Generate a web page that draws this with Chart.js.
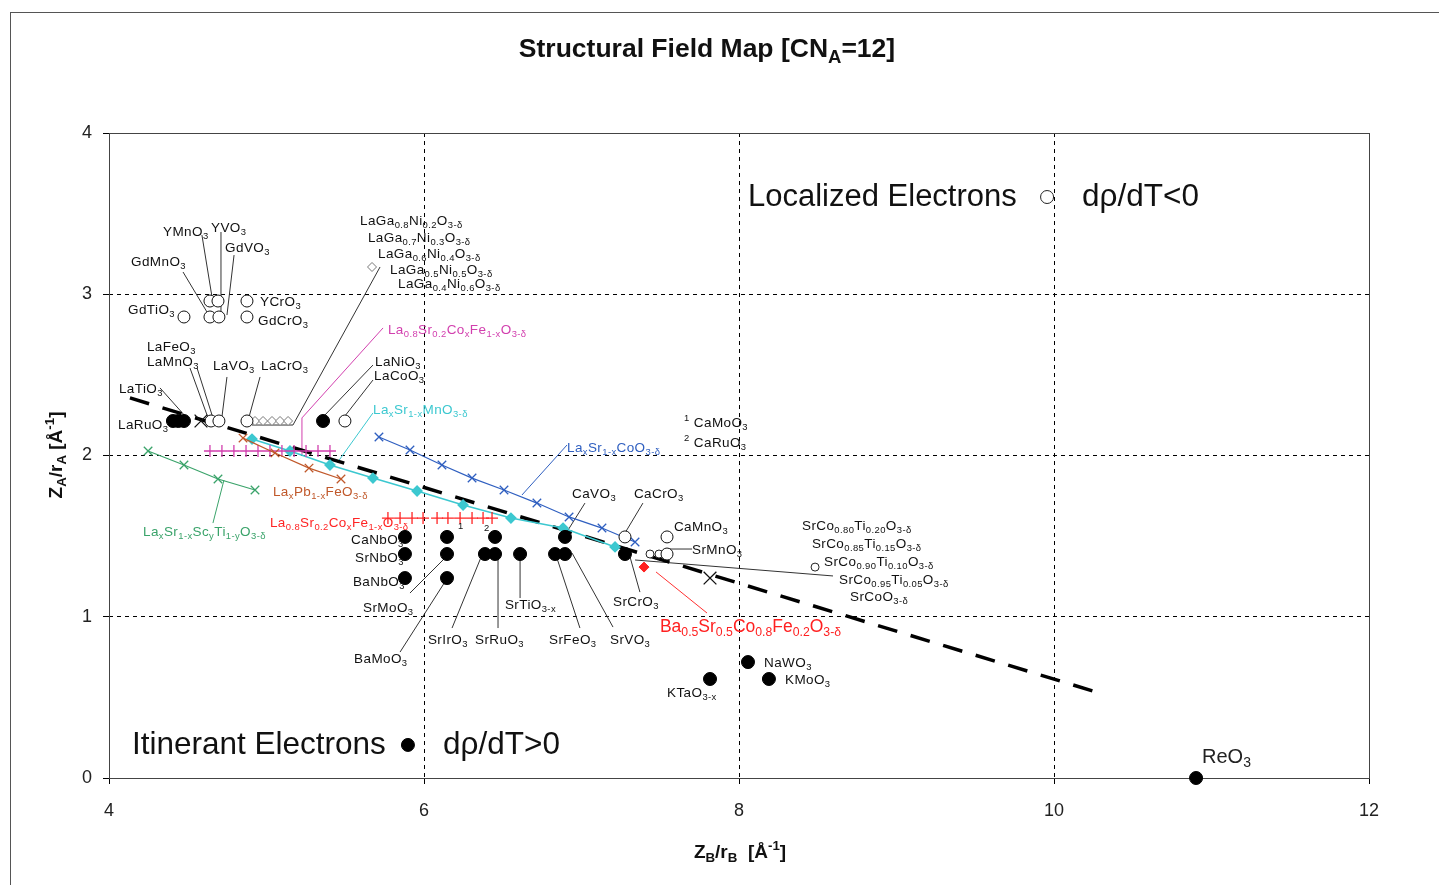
<!DOCTYPE html>
<html>
<head>
<meta charset="utf-8">
<script src="https://cdn.jsdelivr.net/npm/chart.js@4.4.1/dist/chart.umd.min.js"></script>
<style>
html, body { margin: 0; padding: 0; background: #fff; }
#wrap { width: 1439px; height: 885px; }
</style>
</head>
<body>
<div id="wrap"><canvas id="map" width="1439" height="885"></canvas></div>
<script>
// ---- data (Z_B/r_B, Z_A/r_A) ----
const xTicks = [4, 6, 8, 10, 12];
const yTicks = [0, 1, 2, 3, 4];

// itinerant (filled circles)
const metalX = [4.406, 4.44, 4.476, 5.359, 5.879, 5.879, 5.879, 6.146, 6.146, 6.146, 6.451, 6.387, 6.451, 6.61, 6.832, 6.895, 6.895, 7.276, 8.057, 8.19, 7.816, 10.902];
const metalY = [2.214, 2.214, 2.214, 2.214, 1.495, 1.389, 1.24, 1.495, 1.389, 1.24, 1.495, 1.389, 1.389, 1.389, 1.389, 1.389, 1.495, 1.389, 0.719, 0.614, 0.614, 0];

// localized (open circles)
const insulX = [4.476, 4.641, 4.698, 4.641, 4.692, 4.876, 4.876, 4.648, 4.698, 4.876, 5.498, 7.276, 7.543, 7.543];
const insulY = [2.859, 2.859, 2.859, 2.958, 2.958, 2.958, 2.859, 2.214, 2.214, 2.214, 2.214, 1.495, 1.495, 1.389];
const smallOpenX = [7.435, 7.492, 8.483];
const smallOpenY = [1.389, 1.389, 1.308];

// LaGa(1-x)NixO3 series (small diamonds) + label marker
const gaNiX = [4.927, 4.978, 5.035, 5.086, 5.137, 5.67];
const gaNiY = [2.214, 2.214, 2.214, 2.214, 2.214, 3.169];

// black crosses
const crossX = [4.584, 7.816];
const crossY = [2.214, 1.24];

// Ba0.5Sr0.5Co0.8Fe0.2O3
const bscfX = [7.397];
const bscfY = [1.308];

// solid solution series
const scTiX = [4.248, 4.476, 4.692, 4.927];
const scTiY = [2.028, 1.941, 1.854, 1.786];
const pbFeX = [4.851, 5.054, 5.27, 5.473];
const pbFeY = [2.108, 2.016, 1.922, 1.854];
const coFeAX = [4.641, 4.717, 4.793, 4.87, 4.946, 5.022, 5.098, 5.175, 5.251, 5.327, 5.403];
const coFeAY = [2.028, 2.028, 2.028, 2.028, 2.028, 2.028, 2.028, 2.028, 2.028, 2.028, 2.028];
const coFeBX = [5.771, 5.848, 5.924, 5.994, 6.083, 6.152, 6.229, 6.305, 6.375, 6.432];
const coFeBY = [1.612, 1.612, 1.612, 1.612, 1.612, 1.612, 1.612, 1.612, 1.612, 1.612];
const srMnX = [4.908, 5.149, 5.403, 5.676, 5.956, 6.248, 6.552, 6.883, 7.213];
const srMnY = [2.102, 2.028, 1.941, 1.86, 1.78, 1.693, 1.612, 1.55, 1.433];
const srCoX = [5.714, 5.911, 6.114, 6.305, 6.508, 6.717, 6.921, 7.13, 7.34];
const srCoY = [2.115, 2.034, 1.941, 1.86, 1.786, 1.705, 1.619, 1.55, 1.464];

// boundary between fields
const boundX = [4.133, 10.29];
const boundY = [2.357, 0.527];

// symbols inside the two field captions
const keyX = [9.956, 5.898];
const keyY = [3.603, 0.205];

// compound labels [text, x, y]
const blackLabels = [
  ['YMnO_3', 4.343, 3.386], ['YVO_3', 4.648, 3.411], ['GdVO_3', 4.737, 3.287],
  ['GdMnO_3', 4.14, 3.2], ['GdTiO_3', 4.121, 2.902], ['YCrO_3', 4.959, 2.952],
  ['GdCrO_3', 4.946, 2.834], ['LaFeO_3', 4.241, 2.673], ['LaMnO_3', 4.241, 2.58],
  ['LaVO_3', 4.66, 2.555], ['LaCrO_3', 4.965, 2.555], ['LaTiO_3', 4.063, 2.412],
  ['LaRuO_3', 4.057, 2.189],
  ['LaGa_{0.8}Ni_{0.2}O_{3-δ}', 5.594, 3.454], ['LaGa_{0.7}Ni_{0.3}O_{3-δ}', 5.644, 3.349],
  ['LaGa_{0.6}Ni_{0.4}O_{3-δ}', 5.708, 3.25], ['LaGa_{0.5}Ni_{0.5}O_{3-δ}', 5.784, 3.15],
  ['LaGa_{0.4}Ni_{0.6}O_{3-δ}', 5.835, 3.064],
  ['LaNiO_3', 5.689, 2.58], ['LaCoO_3', 5.683, 2.493],
  ['^{1} CaMoO_3', 7.651, 2.202], ['^{2} CaRuO_3', 7.651, 2.078],
  ['CaVO_3', 6.94, 1.761], ['CaCrO_3', 7.333, 1.761], ['CaMnO_3', 7.587, 1.557],
  ['SrMnO_3', 7.702, 1.414],
  ['SrCo_{0.80}Ti_{0.20}O_{3-δ}', 8.4, 1.563], ['SrCo_{0.85}Ti_{0.15}O_{3-δ}', 8.463, 1.451],
  ['SrCo_{0.90}Ti_{0.10}O_{3-δ}', 8.54, 1.34], ['SrCo_{0.95}Ti_{0.05}O_{3-δ}', 8.635, 1.228],
  ['SrCoO_{3-δ}', 8.705, 1.122],
  ['CaNbO_3', 5.537, 1.476], ['SrNbO_3', 5.562, 1.364], ['BaNbO_3', 5.549, 1.216],
  ['SrMoO_3', 5.613, 1.054], ['BaMoO_3', 5.556, 0.738], ['SrIrO_3', 6.025, 0.856],
  ['SrRuO_3', 6.324, 0.856], ['SrTiO_{3-x}', 6.514, 1.073], ['SrFeO_3', 6.794, 0.856],
  ['SrVO_3', 7.181, 0.856], ['SrCrO_3', 7.2, 1.091],
  ['NaWO_3', 8.159, 0.713], ['KMoO_3', 8.292, 0.608], ['KTaO_{3-x}', 7.543, 0.527],
  ['^{1}', 6.216, 1.532], ['^{2}', 6.381, 1.519]
];

const seriesNames = [
  'La_xSr_{1-x}Sc_yTi_{1-y}O_{3-δ}', 'La_xPb_{1-x}FeO_{3-δ}',
  'La_{0.8}Sr_{0.2}Co_xFe_{1-x}O_{3-δ}', 'La_{0.8}Sr_{0.2}Co_xFe_{1-x}O_{3-δ}',
  'La_xSr_{1-x}MnO_{3-δ}', 'La_xSr_{1-x}CoO_{3-δ}'
];
const seriesLabelX = [4.216, 5.041, 5.771, 5.022, 5.676, 6.908];
const seriesLabelY = [1.526, 1.774, 2.778, 1.581, 2.282, 2.047];

// leader lines (x1, y1, x2, y2, ...)
const leaders = [
  [4.59, 3.367, 4.654, 2.983], [4.711, 3.386, 4.711, 2.853], [4.794, 3.243, 4.749, 2.871],
  [4.47, 3.138, 4.622, 2.89], [4.514, 2.543, 4.629, 2.233], [4.559, 2.543, 4.66, 2.233],
  [4.324, 2.419, 4.483, 2.245], [4.749, 2.487, 4.717, 2.239], [4.959, 2.487, 4.889, 2.239],
  [5.721, 3.169, 5.168, 2.189, 4.908, 2.189],
  [5.676, 2.561, 5.371, 2.251], [5.676, 2.468, 5.498, 2.245],
  [7.022, 1.705, 6.895, 1.507], [7.39, 1.705, 7.276, 1.519], [7.543, 1.42, 7.702, 1.42],
  [7.34, 1.352, 8.597, 1.253],
  [5.911, 1.147, 6.133, 1.364], [5.848, 0.781, 6.133, 1.216], [6.178, 0.93, 6.368, 1.383],
  [6.47, 0.93, 6.47, 1.377], [6.61, 1.116, 6.61, 1.377], [6.99, 0.93, 6.844, 1.364],
  [7.2, 0.936, 6.94, 1.395], [7.371, 1.153, 7.308, 1.371]
];
const seriesLeaders = [
  [4.73, 1.848, 4.66, 1.581], null,
  [5.74, 2.791, 5.225, 2.233, 5.225, 2.003], null,
  [5.448, 1.953, 5.676, 2.264], [6.622, 1.755, 6.908, 2.065]
];
const bscfLeader = [7.797, 1.023, 7.473, 1.278];

// ---- style ----
const FAM = "'Liberation Sans', Arial, sans-serif";
const seriesColors = ['#3aa36a', '#c0582a', '#d23fae', '#ff2424', '#3cc8d0', '#2f5fc0'];
const pts = (xs, ys) => xs.map((x, i) => ({x: x, y: ys[i]}));

function parseRich(s) {
  const segs = [];
  let cur = '', i = 0;
  while (i < s.length) {
    const c = s[i];
    if (c === '_' || c === '^') {
      if (cur) segs.push({t: cur, m: 'n'});
      cur = '';
      const m = c === '_' ? 'sub' : 'sup';
      i++;
      let t;
      if (s[i] === '{') { const j = s.indexOf('}', i); t = s.slice(i + 1, j); i = j + 1; }
      else { t = s[i]; i++; }
      segs.push({t: t, m: m});
    } else { cur += c; i++; }
  }
  if (cur) segs.push({t: cur, m: 'n'});
  return segs;
}

function drawRich(ctx, s, x, y, size, color, align, weight, spacing) {
  weight = weight || 'normal';
  ctx.save();
  ctx.letterSpacing = (spacing || 0) + 'px';
  const segs = parseRich(s);
  let w = 0;
  segs.forEach(g => {
    g.fs = g.m === 'n' ? size : size * 0.7;
    ctx.font = weight + ' ' + g.fs + 'px ' + FAM;
    g.w = ctx.measureText(g.t).width;
    w += g.w;
  });
  let cx = align === 'center' ? x - w / 2 : (align === 'right' ? x - w : x);
  ctx.textBaseline = 'middle';
  ctx.textAlign = 'left';
  ctx.fillStyle = color;
  segs.forEach(g => {
    ctx.font = weight + ' ' + g.fs + 'px ' + FAM;
    const dy = g.m === 'sub' ? size * 0.3 : (g.m === 'sup' ? -size * 0.35 : 0);
    ctx.fillText(g.t, cx, y + dy);
    cx += g.w;
  });
  ctx.restore();
}

function polyline(ctx, sx, sy, arr, color, width) {
  ctx.save();
  ctx.strokeStyle = color;
  ctx.lineWidth = width;
  ctx.beginPath();
  for (let i = 0; i < arr.length; i += 2) {
    const px = sx.getPixelForValue(arr[i]), py = sy.getPixelForValue(arr[i + 1]);
    if (i === 0) ctx.moveTo(px, py); else ctx.lineTo(px, py);
  }
  ctx.stroke();
  ctx.restore();
}

const decorPlugin = {
  id: 'decor',
  beforeDatasetsDraw(chart) {
    const ctx = chart.ctx, sx = chart.scales.x, sy = chart.scales.y;
    const a = chart.chartArea;
    ctx.save();
    ctx.strokeStyle = '#444';
    ctx.lineWidth = 1;
    ctx.strokeRect(a.left + 0.5, a.top + 0.5, a.right - a.left, a.bottom - a.top);
    ctx.restore();
    leaders.forEach(l => polyline(ctx, sx, sy, l, '#333', 1));
    seriesLeaders.forEach((l, i) => { if (l) polyline(ctx, sx, sy, l, seriesColors[i], 1); });
    polyline(ctx, sx, sy, bscfLeader, '#ff3030', 1);
  },
  afterDatasetsDraw(chart) {
    const ctx = chart.ctx, sx = chart.scales.x, sy = chart.scales.y;
    blackLabels.forEach(l => drawRich(ctx, l[0], sx.getPixelForValue(l[1]), sy.getPixelForValue(l[2]), 13.5, '#111', 'left', 'normal', 0.4));
    seriesNames.forEach((n, i) => drawRich(ctx, n, sx.getPixelForValue(seriesLabelX[i]), sy.getPixelForValue(seriesLabelY[i]), 13.5, seriesColors[i], 'left', 'normal', 0.4));
    drawRich(ctx, 'Ba_{0.5}Sr_{0.5}Co_{0.8}Fe_{0.2}O_{3-δ}', sx.getPixelForValue(7.498), sy.getPixelForValue(0.936), 17.5, '#ff2020', 'left');
    drawRich(ctx, 'ReO_3', sx.getPixelForValue(10.94), sy.getPixelForValue(0.13), 20, '#222', 'left');
    drawRich(ctx, 'Localized Electrons', sx.getPixelForValue(8.057), sy.getPixelForValue(3.603), 31, '#111', 'left');
    drawRich(ctx, 'dρ/dT<0', sx.getPixelForValue(10.178), sy.getPixelForValue(3.603), 31.5, '#111', 'left');
    drawRich(ctx, 'Itinerant Electrons', sx.getPixelForValue(4.146), sy.getPixelForValue(0.205), 31.5, '#111', 'left');
    drawRich(ctx, 'dρ/dT>0', sx.getPixelForValue(6.121), sy.getPixelForValue(0.205), 31.5, '#111', 'left');
  },
  afterDraw(chart) {
    const ctx = chart.ctx;
    ctx.save();
    ctx.strokeStyle = '#555';
    ctx.lineWidth = 1;
    ctx.strokeRect(10.5, 12.5, 1440, 880);
    ctx.restore();
    drawRich(ctx, 'Structural Field Map [CN_A=12]', 707, 50, 26.5, '#111', 'center', 'bold');
    drawRich(ctx, 'Z_B/r_B  [Å^{-1}]', 740, 853, 19, '#111', 'center', 'bold');
    ctx.save();
    ctx.translate(57, 455);
    ctx.rotate(-Math.PI / 2);
    drawRich(ctx, 'Z_A/r_A [Å^{-1}]', 0, 0, 19, '#111', 'center', 'bold');
    ctx.restore();
  }
};

const seriesLine = (data, i, style, extra) => Object.assign({
  data: data, showLine: true, borderColor: seriesColors[i], borderWidth: 1.2,
  pointStyle: style, pointRadius: 6, pointBorderColor: seriesColors[i],
  pointBackgroundColor: seriesColors[i], pointBorderWidth: 1.3
}, extra || {});

new Chart(document.getElementById('map'), {
  type: 'scatter',
  data: {
    datasets: [
      {data: pts(metalX, metalY), clip: false, pointStyle: 'circle', pointRadius: 6.5, pointBackgroundColor: '#000', pointBorderColor: '#000'},
      {data: pts(insulX, insulY), pointStyle: 'circle', pointRadius: 6, pointBackgroundColor: '#fff', pointBorderColor: '#111', pointBorderWidth: 1},
      {data: pts(smallOpenX, smallOpenY), pointStyle: 'circle', pointRadius: 4, pointBackgroundColor: '#fff', pointBorderColor: '#222', pointBorderWidth: 1},
      {data: pts(gaNiX, gaNiY), pointStyle: 'rectRot', pointRadius: 4.5, pointBackgroundColor: '#fff', pointBorderColor: '#777', pointBorderWidth: 1},
      {data: pts(crossX, crossY), pointStyle: 'crossRot', pointRadius: 9, pointBorderColor: '#111', pointBorderWidth: 1.3},
      {data: pts(bscfX, bscfY), pointStyle: 'rectRot', pointRadius: 5, pointBackgroundColor: '#ff2020', pointBorderColor: '#ff2020'},
      {data: [{x: keyX[0], y: keyY[0]}], pointStyle: 'circle', pointRadius: 6.5, pointBackgroundColor: '#fff', pointBorderColor: '#222', pointBorderWidth: 1},
      {data: [{x: keyX[1], y: keyY[1]}], pointStyle: 'circle', pointRadius: 6.5, pointBackgroundColor: '#000', pointBorderColor: '#000'},
      seriesLine(pts(scTiX, scTiY), 0, 'crossRot'),
      seriesLine(pts(pbFeX, pbFeY), 1, 'crossRot'),
      seriesLine(pts(coFeAX, coFeAY), 2, 'cross', {showLine: false}),
      seriesLine(pts(coFeBX, coFeBY), 3, 'cross', {showLine: false}),
      seriesLine(pts(srMnX, srMnY), 4, 'rectRot', {pointRadius: 5, borderWidth: 1.5}),
      seriesLine(pts(srCoX, srCoY), 5, 'crossRot'),
      {data: pts(boundX, boundY), showLine: true, pointRadius: 0, borderColor: '#000', borderWidth: 3.5, borderDash: [20, 14]}
    ]
  },
  options: {
    responsive: false,
    animation: false,
    layout: {padding: {left: 0, right: 70, top: 133, bottom: 0}},
    plugins: {legend: {display: false}, tooltip: {enabled: false}},
    scales: {
      x: {
        type: 'linear', min: 4, max: 12,
        afterBuildTicks: s => { s.ticks = xTicks.map(v => ({value: v})); },
        afterFit: s => { s.height = 107; },
        ticks: {color: '#222', font: {size: 18, family: FAM}, padding: 16},
        grid: {color: '#000', lineWidth: 1, tickLength: 6, tickColor: '#000'},
        border: {display: false, dash: [4, 4]}
      },
      y: {
        type: 'linear', min: 0, max: 4,
        afterBuildTicks: s => { s.ticks = yTicks.map(v => ({value: v})); },
        afterFit: s => { s.width = 109; },
        ticks: {color: '#222', font: {size: 18, family: FAM}, padding: 11},
        grid: {color: '#000', lineWidth: 1, tickLength: 6, tickColor: '#000'},
        border: {display: false, dash: [4, 4]}
      }
    }
  },
  plugins: [decorPlugin]
});
</script>
</body>
</html>
